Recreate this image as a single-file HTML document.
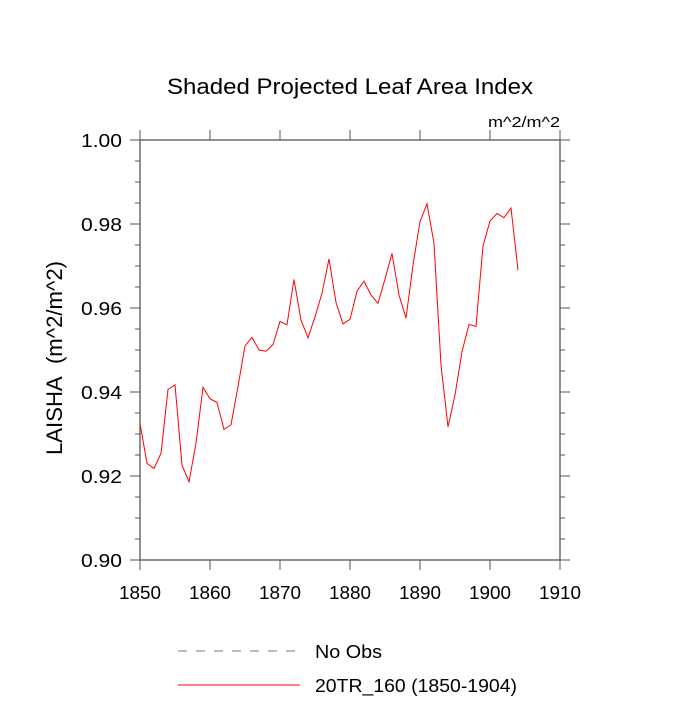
<!DOCTYPE html>
<html><head><meta charset="utf-8"><style>
body{margin:0;background:#fff}
svg text{font-family:"Liberation Sans",sans-serif;fill:#000}
</style></head><body>
<svg id="chart" width="700" height="700">
<text x="350" y="94" text-anchor="middle" font-size="22" textLength="366" lengthAdjust="spacingAndGlyphs">Shaded Projected Leaf Area Index</text>
<text x="560" y="127" text-anchor="end" font-size="15" textLength="72" lengthAdjust="spacingAndGlyphs">m^2/m^2</text>
<text transform="translate(62,358) rotate(-90)" text-anchor="middle" font-size="22" textLength="194" lengthAdjust="spacingAndGlyphs">LAISHA&#160; (m^2/m^2)</text>
<g id="axes"></g>
<g id="series"></g>
<line x1="178" y1="651" x2="300" y2="651" stroke="#777" stroke-dasharray="9,9"/>
<text x="315" y="658" font-size="18" textLength="67" lengthAdjust="spacingAndGlyphs">No Obs</text>
<line x1="178" y1="685" x2="300" y2="685" stroke="red"/>
<text x="315" y="692" font-size="18" textLength="202" lengthAdjust="spacingAndGlyphs">20TR_160 (1850-1904)</text>
</svg>
<script>
const years=[];for(let y=1850;y<=1904;y++)years.push(y);
const values=[0.9325,0.9230,0.9218,0.9254,0.9406,0.9417,0.9226,0.9186,0.9278,0.9411,0.9384,0.9375,0.9311,0.9322,0.9413,0.9510,0.9530,0.9500,0.9497,0.9513,0.9568,0.9560,0.9668,0.9571,0.9529,0.9579,0.9635,0.9717,0.9613,0.9562,0.9573,0.9640,0.9664,0.9631,0.9611,0.9669,0.9730,0.9631,0.9576,0.9702,0.9806,0.9848,0.9754,0.9464,0.9317,0.9393,0.9496,0.9561,0.9556,0.9748,0.9807,0.9825,0.9815,0.9838,0.9690];
const xTicks=[1850,1860,1870,1880,1890,1900,1910];
const yTicks=["0.90","0.92","0.94","0.96","0.98","1.00"];
const X0=140,X1=560,Y0=140,Y1=560;
const xs=v=>X0+(v-1850)/60*(X1-X0);
const ys=v=>Y1-(v-0.9)/0.1*(Y1-Y0);
const NS="http://www.w3.org/2000/svg";
const ax=document.getElementById('axes');
function mk(tag,a,p){const e=document.createElementNS(NS,tag);for(const k in a)e.setAttribute(k,a[k]);(p||ax).appendChild(e);return e;}
const box=mk('rect',{x:X0,y:Y0,width:X1-X0,height:Y1-Y0,fill:'none',stroke:'#555','stroke-width':1.3});


xTicks.forEach(t=>{const x=xs(t);
 mk('line',{x1:x,y1:Y1,x2:x,y2:Y1+10,stroke:'#555'});
 mk('line',{x1:x,y1:Y0,x2:x,y2:Y0-10,stroke:'#555'});
 const tx=mk('text',{x:x,y:Y1+39,'text-anchor':'middle','font-size':18,textLength:42,lengthAdjust:'spacingAndGlyphs'});tx.textContent=t;
 
 });
for(let v=0.9;v<=1.0001;v+=0.005){const y=ys(v);const maj=Math.round(v*1000)%20===0;const L=maj?10:5;
 mk('line',{x1:X0,y1:y,x2:X0-L,y2:y,stroke:'#555'});
 mk('line',{x1:X1,y1:y,x2:X1+L,y2:y,stroke:'#555'});}
yTicks.forEach(t=>{const tx=mk('text',{x:X0-18,y:ys(+t)+7,'text-anchor':'end','font-size':18,textLength:41,lengthAdjust:'spacingAndGlyphs'});tx.textContent=t;
 
 });
const line=mk('polyline',{points:years.map((y,i)=>xs(y)+','+ys(values[i])).join(' '),fill:'none',stroke:'red','stroke-width':1},document.getElementById('series'));


</script>
</body></html>
